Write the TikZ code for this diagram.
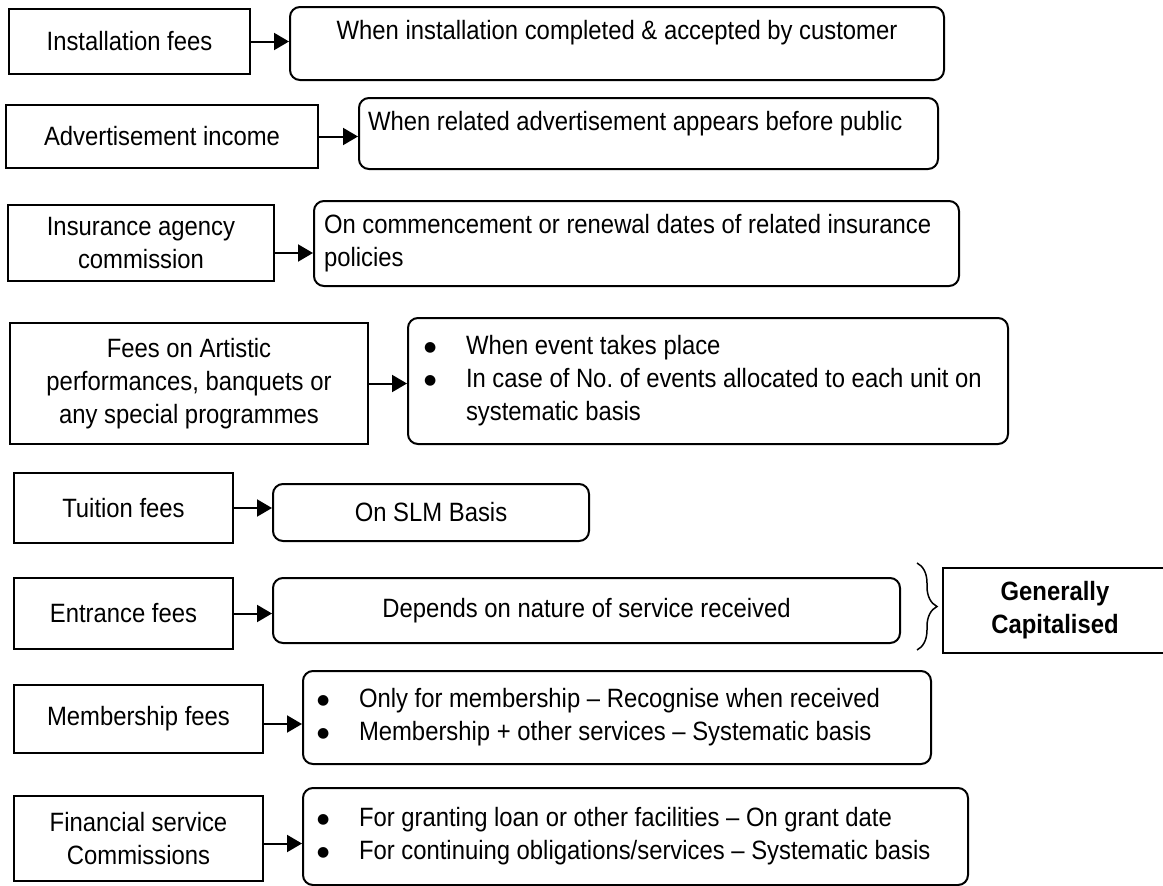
\documentclass[tikz,border=0pt]{standalone}
\usepackage{fontspec}
\setmainfont[FakeStretch=0.9]{Liberation Sans}
\newfontfamily\dotfont{DejaVu Sans}
\usetikzlibrary{arrows.meta,decorations.pathreplacing}
\newcommand{\bul}{\makebox[42pt][l]{\raisebox{3pt}{\dotfont\fontsize{14}{14}\selectfont ●}}}
\frenchspacing
\begin{document}
\begin{tikzpicture}[x=1pt, y=-1pt,
    every node/.style={font=\fontsize{26.5}{33}\selectfont},
    src/.style={draw, line width=2pt, anchor=north west, align=center, inner sep=0pt},
    res/.style={src, rounded corners=10pt},
    arr/.style={line width=2pt, -{Triangle[length=15pt,width=17pt]}}]
    \useasboundingbox (0,0) rectangle (1163,886);
    \node[src, minimum width=241pt, minimum height=65pt] (inst) at (8,8) {Installation fees};
    \node[src, minimum width=312pt, minimum height=63pt] (adv) at (5,104) {Advertisement income};
    \node[src, minimum width=266pt, minimum height=76pt] (ins) at (7,204) {Insurance agency\\commission};
    \node[src, minimum width=358pt, minimum height=121pt] (art) at (9,322) {Fees on Artistic\\performances, banquets or\\any special programmes};
    \node[src, minimum width=219pt, minimum height=70pt] (tui) at (13,472) {Tuition fees};
    \node[src, minimum width=219pt, minimum height=71pt] (ent) at (13,577) {Entrance fees};
    \node[src, minimum width=249pt, minimum height=68pt] (mem) at (13,684) {Membership fees};
    \node[src, minimum width=249pt, minimum height=85pt] (fin) at (13,795) {Financial service\\Commissions};

    \node[res, minimum width=654pt, minimum height=73pt, text depth=27pt] (inst-r) at (289,6) {When installation completed \& accepted by customer};
    \node[res, align=flush left, text width=561pt, inner xsep=9pt, minimum height=71pt, text depth=26pt] (adv-r) at (358,97) {When related advertisement appears before public};
    \node[res, align=flush left, text width=625pt, inner xsep=10pt, minimum height=85pt] (ins-r) at (313,200) {\mbox{On commencement or renewal dates of related insurance}\\policies};
    \node[res, align=flush left, text width=568pt, inner xsep=16pt, minimum height=126pt] (art-r) at (407,317) {\bul When event takes place\\\mbox{\bul In case of No. of events allocated to each unit on}\\\hspace*{42pt}systematic basis};
    \node[res, minimum width=316pt, minimum height=57pt] (tui-r) at (272,483) {On SLM Basis};
    \node[res, minimum width=627pt, minimum height=65pt] (ent-r) at (272,577) {Depends on nature of service received};
    \node[res, align=flush left, text width=600pt, inner xsep=14pt, minimum height=93pt] (mem-r) at (302,670) {\bul Only for membership -- Recognise when received\\\bul Membership + other services -- Systematic basis};
    \node[res, align=flush left, text width=637pt, inner xsep=14pt, minimum height=97pt] (fin-r) at (302,787) {\bul For granting loan or other facilities -- On grant date\\\bul For continuing obligations/services -- Systematic basis};

    \node[src, minimum width=224pt, minimum height=85pt, font=\fontsize{26.5}{33}\selectfont\bfseries] (cap) at (942,567) {Generally\\Capitalised};

    \foreach \a/\s in {inst/0,adv/0,ins/10,art/0,tui/0,ent/0,mem/5,fin/5}
        \draw[arr] ([yshift=-\s pt]\a.east) -- ([yshift=-\s pt]\a.east -| \a-r.west);

    \coordinate (brace-t) at (917,563);
    \coordinate (brace-b) at (917,650);
    \draw[line width=1.5pt, decorate, decoration={brace, amplitude=20pt}] (brace-t) -- (brace-b);
\end{tikzpicture}
\end{document}
